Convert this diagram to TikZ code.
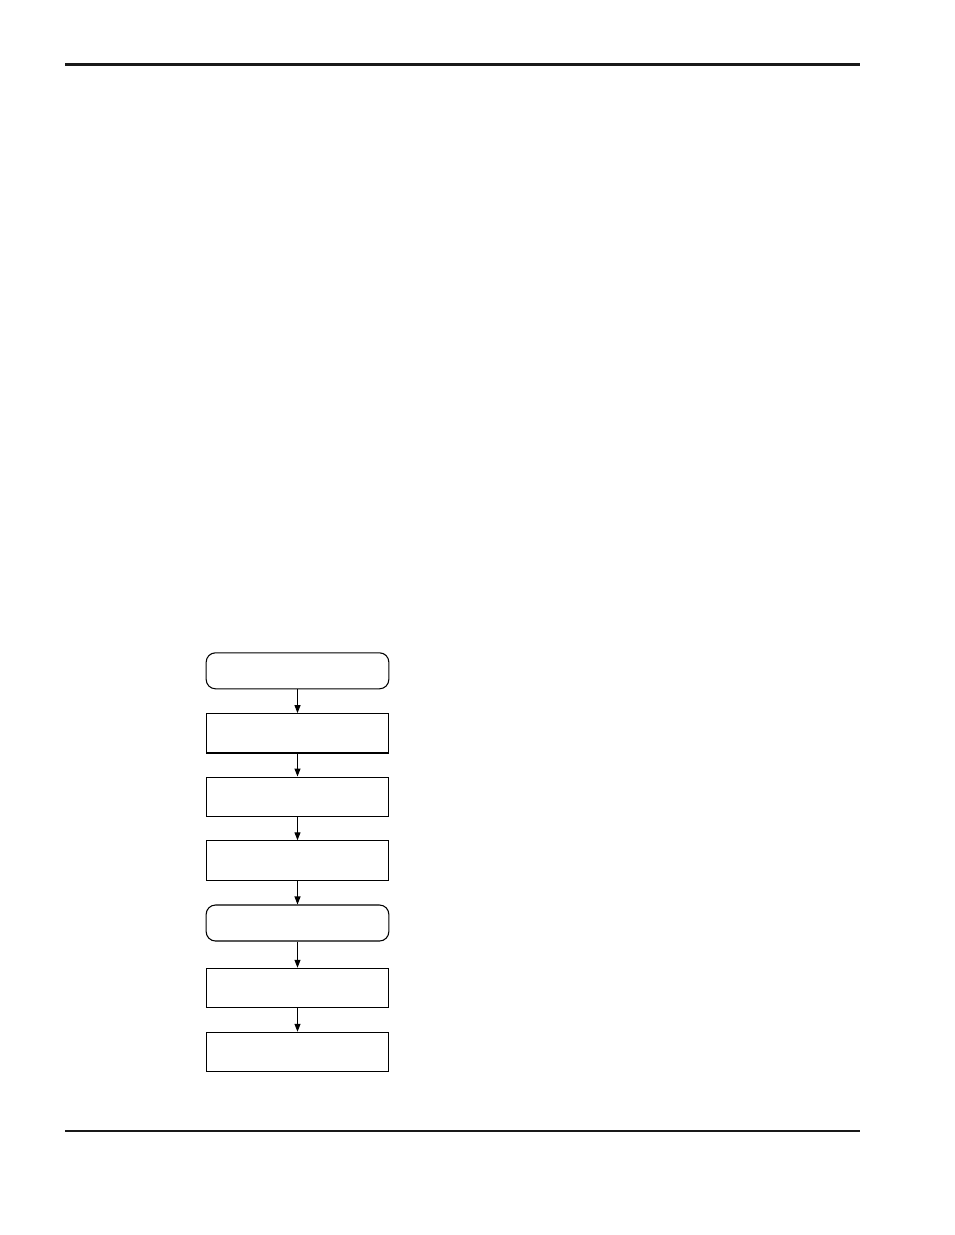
\documentclass[tikz,border=0pt]{standalone}
\usetikzlibrary{arrows.meta}
\begin{document}
\begin{tikzpicture}[x=0.75pt,y=-0.75pt,
  procbox/.style={draw, line width=0.8pt, inner sep=0pt, minimum width=137pt, minimum height=29.5pt},
  termbox/.style={draw, line width=0.8pt, rounded corners=7pt, inner sep=0pt, minimum width=137pt, minimum height=27pt},
  flow/.style={line width=0.8pt, -{Triangle[length=6pt,width=4.5pt]}},
  rule/.style={line width=1.6pt, color=black!90}]
\useasboundingbox (0,0) rectangle (954,1235);
\coordinate (hl) at (65,64.5);
\coordinate (hr) at (860,64.5);
\coordinate (fl) at (65,1130.7);
\coordinate (fr) at (860,1130.7);
\draw[rule] (hl) -- (hr);
\draw[rule] (fl) -- (fr);
\node[termbox] (n1) at (297.5,670.8) {};
\node[procbox] (n2) at (297.5,733.3) {};
\node[procbox] (n3) at (297.5,796.7) {};
\node[procbox] (n4) at (297.5,860.5) {};
\node[termbox] (n5) at (297.5,923) {};
\node[procbox] (n6) at (297.5,988) {};
\node[procbox] (n7) at (297.5,1052) {};
\draw[flow] (n1) -- (n2);
\draw[flow] (n2) -- (n3);
\draw[flow] (n3) -- (n4);
\draw[flow] (n4) -- (n5);
\draw[flow] (n5) -- (n6);
\draw[flow] (n6) -- (n7);
\end{tikzpicture}
\end{document}
